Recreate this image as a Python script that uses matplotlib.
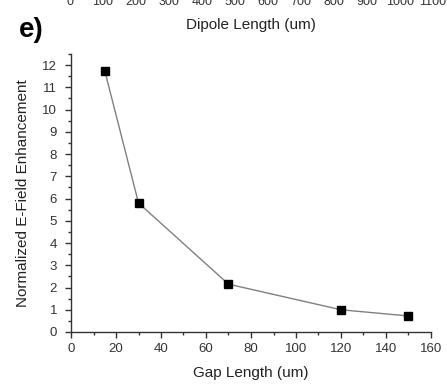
import numpy as np
import matplotlib
matplotlib.use('Agg')
import matplotlib.pyplot as plt
from matplotlib.ticker import MultipleLocator

plt.rcParams['font.family'] = ['Liberation Sans', 'DejaVu Sans']

# data
gap_length = [15, 30, 70, 120, 150]
enhancement = [11.75, 5.8, 2.15, 1.0, 0.72]

# tick labels of the panel above (cut off at the top edge)
dipole_ticks = [0, 100, 200, 300, 400, 500, 600, 700, 800, 900, 1000, 1100]

W, H = 447, 385
fig = plt.figure(figsize=(W / 100, H / 100), dpi=100)

# main panel
ax = fig.add_axes([71 / W, 1 - 332 / H, (431 - 71) / W, (332 - 54) / H])
ax.plot(gap_length, enhancement, color='#808080', lw=1.0,
        marker='s', ms=5.5, mfc='black', mec='black', zorder=3)
ax.set_xlim(0, 160)
ax.set_ylim(0, 12.5)
ax.xaxis.set_major_locator(MultipleLocator(20))
ax.xaxis.set_minor_locator(MultipleLocator(10))
ax.yaxis.set_major_locator(MultipleLocator(1))
ax.yaxis.set_minor_locator(MultipleLocator(0.5))
for s in ['top', 'right']:
    ax.spines[s].set_visible(False)
for s in ['left', 'bottom']:
    ax.spines[s].set_color('#333333')
    ax.spines[s].set_linewidth(1.0)
ax.tick_params(which='major', direction='out', length=4, width=1.0,
               color='#333333', labelsize=9.5, labelcolor='#333333', pad=4)
ax.tick_params(axis='y', which='major', pad=6)
ax.tick_params(which='minor', direction='out', length=2.5, width=1.0,
               color='#333333')
ax.set_xlabel('Gap Length (um)', fontsize=11, color='#222222', labelpad=8)
ax.set_ylabel('Normalized E-Field Enhancement', fontsize=11,
              color='#222222', labelpad=9)

# remnant of the panel above: its x tick labels and axis title
top = fig.add_axes([70 / W, 1 + 4 / H, (433 - 70) / W, 0.05])
top.set_xlim(0, 1100)
top.set_xticks(dipole_ticks)
top.set_xticklabels([str(t) for t in dipole_ticks])
top.tick_params(axis='x', length=0, pad=0, labelsize=9, labelcolor='#333333')
top.set_yticks([])
for s in top.spines.values():
    s.set_visible(False)
top.patch.set_visible(False)

fig.text(251 / W, 1 - 25 / H, 'Dipole Length (um)', ha='center', va='center',
         fontsize=11, color='#222222')
fig.text(19 / W, 1 - 30 / H, 'e)', ha='left', va='center',
         fontsize=20, fontweight='bold', color='black')

fig.savefig('out.png', dpi=100)
